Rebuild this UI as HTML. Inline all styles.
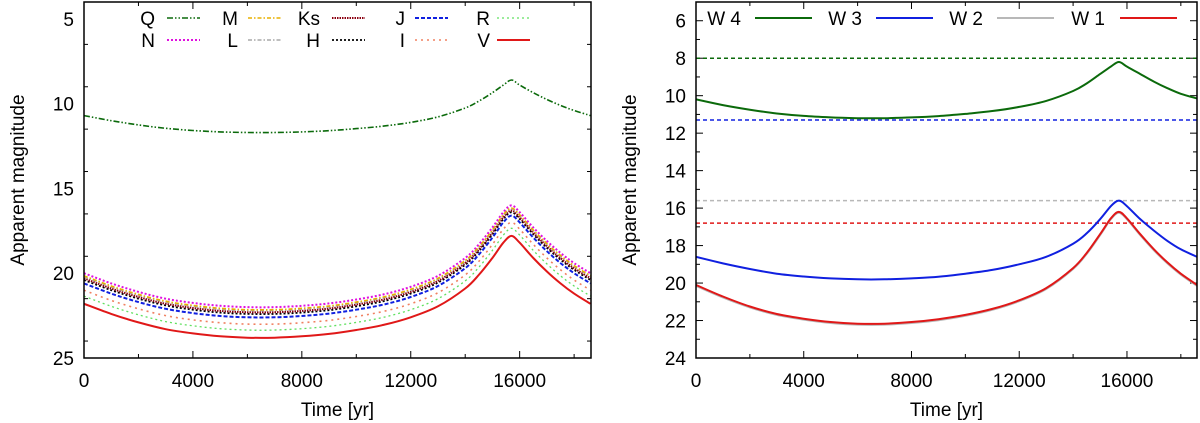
<!DOCTYPE html>
<html><head><meta charset="utf-8"><style>
html,body{margin:0;padding:0;background:#fff;}
svg{display:block;font-family:"Liberation Sans",Helvetica,sans-serif;}
</style></head><body>
<svg id="chart" width="1200" height="423" viewBox="0 0 1200 423"></svg>
<script>
const times=[0,1000,2000,3000,4000,5000,6000,7000,8000,9000,10000,11000,12000,13000,14000,14500,15000,15400,15700,16000,16500,17000,17500,18000,18600];
const magQ=[10.7,11.0,11.25,11.45,11.58,11.66,11.7,11.7,11.66,11.59,11.47,11.32,11.1,10.78,10.25,9.85,9.35,8.9,8.6,8.9,9.35,9.75,10.1,10.4,10.7];
const magN=[20,20.6,21.1,21.5,21.75,21.92,22,22,21.92,21.78,21.55,21.25,20.8,20.15,19.1,18.3,17.3,16.4,16,16.4,17.3,18.1,18.8,19.4,20];
const magM=[20.15,20.75,21.25,21.65,21.9,22.07,22.15,22.15,22.07,21.93,21.7,21.4,20.95,20.3,19.25,18.45,17.45,16.55,16.15,16.55,17.45,18.25,18.95,19.55,20.15];
const magL=[20.2,20.8,21.3,21.7,21.95,22.12,22.2,22.2,22.12,21.98,21.75,21.45,21,20.35,19.3,18.5,17.5,16.6,16.2,16.6,17.5,18.3,19,19.6,20.2];
const magKs=[20.3,20.9,21.4,21.8,22.05,22.22,22.3,22.3,22.22,22.08,21.85,21.55,21.1,20.45,19.4,18.6,17.6,16.7,16.3,16.7,17.6,18.4,19.1,19.7,20.3];
const magH=[20.4,21,21.5,21.9,22.15,22.32,22.4,22.4,22.32,22.18,21.95,21.65,21.2,20.55,19.5,18.7,17.7,16.8,16.4,16.8,17.7,18.5,19.2,19.8,20.4];
const magJ=[20.6,21.2,21.7,22.1,22.35,22.52,22.6,22.6,22.52,22.38,22.15,21.85,21.4,20.75,19.7,18.9,17.9,17,16.6,17,17.9,18.7,19.4,20,20.6];
const magI=[21,21.6,22.1,22.5,22.75,22.92,23,23,22.92,22.78,22.55,22.25,21.8,21.15,20.1,19.3,18.3,17.4,17,17.4,18.3,19.1,19.8,20.4,21];
const magR=[21.35,21.95,22.45,22.85,23.1,23.27,23.35,23.35,23.27,23.13,22.9,22.6,22.15,21.5,20.45,19.65,18.65,17.75,17.35,17.75,18.65,19.45,20.15,20.75,21.35];
const magV=[21.8,22.4,22.9,23.3,23.55,23.72,23.8,23.8,23.72,23.58,23.35,23.05,22.6,21.95,20.9,20.1,19.1,18.2,17.8,18.2,19.1,19.9,20.6,21.2,21.8];
const magW4=[10.2,10.5,10.75,10.95,11.08,11.16,11.2,11.2,11.16,11.09,10.97,10.82,10.6,10.28,9.75,9.35,8.85,8.45,8.2,8.45,8.85,9.25,9.6,9.9,10.15];
const magW3=[18.6,18.95,19.25,19.5,19.65,19.75,19.8,19.8,19.75,19.66,19.5,19.3,19.0,18.6,17.9,17.35,16.6,15.9,15.6,15.9,16.6,17.2,17.75,18.2,18.6];
const magW2=[20.15,20.77,21.3,21.7,21.95,22.13,22.22,22.22,22.13,21.98,21.75,21.43,20.97,20.32,19.25,18.45,17.45,16.6,16.25,16.6,17.45,18.25,18.95,19.55,20.15];
const magW1=[20.1,20.72,21.25,21.65,21.9,22.08,22.17,22.17,22.08,21.93,21.7,21.38,20.92,20.27,19.2,18.4,17.4,16.55,16.2,16.55,17.4,18.2,18.9,19.5,20.1];
const limitW4=8.0, limitW3=11.3, limitW2=15.6, limitW1=16.8;
const xTicks=[0,4000,8000,12000,16000];
const yTicksLeft=[5,10,15,20,25];
const yTicksRight=[6,8,10,12,14,16,18,20,22,24];

const NS="http://www.w3.org/2000/svg";
const svg=document.getElementById('chart');
function mk(tag,attrs,parent){const e=document.createElementNS(NS,tag);for(const k in attrs)e.setAttribute(k,attrs[k]);(parent||svg).appendChild(e);return e;}
function smooth(pts){
  let d='M'+pts[0][0].toFixed(1)+','+pts[0][1].toFixed(1);
  for(let i=0;i<pts.length-1;i++){
    const p0=pts[i-1]||pts[i],p1=pts[i],p2=pts[i+1],p3=pts[i+2]||p2;
    const c1=[p1[0]+(p2[0]-p0[0])/6,p1[1]+(p2[1]-p0[1])/6];
    const c2=[p2[0]-(p3[0]-p1[0])/6,p2[1]-(p3[1]-p1[1])/6];
    d+=` C${c1[0].toFixed(1)},${c1[1].toFixed(1)} ${c2[0].toFixed(1)},${c2[1].toFixed(1)} ${p2[0].toFixed(1)},${p2[1].toFixed(1)}`;
  }
  return d;
}
const FS=19;
function panel(o){
  const g=mk('g',{});
  
  
  const X=v=>o.x0+(v-0)/(o.xmax)*(o.x1-o.x0);
  const Y=v=>o.y0+(v-o.ymin)/(o.ymax-o.ymin)*(o.y1-o.y0);
  for(let t=0;t<=o.xmax;t+=2000){
    const major=t%4000===0, L=major?7:4;
    mk('line',{x1:X(t),x2:X(t),y1:o.y1,y2:o.y1-L,stroke:'#000','stroke-width':1},g);
    mk('line',{x1:X(t),x2:X(t),y1:o.y0,y2:o.y0+L,stroke:'#000','stroke-width':1},g);
  }
  xTicks.forEach(t=>{const tx=mk('text',{x:X(t),y:o.y1+29,'text-anchor':'middle','font-size':FS},g);tx.textContent=t;
    });
  for(let v=o.ymin;v<=o.ymax+1e-9;v+=o.minor){
    const major=o.yTicks.some(t=>Math.abs(t-v)<1e-6), L=major?7:4;
    mk('line',{x1:o.x0,x2:o.x0+L,y1:Y(v),y2:Y(v),stroke:'#000'},g);
    mk('line',{x1:o.x1,x2:o.x1-L,y1:Y(v),y2:Y(v),stroke:'#000'},g);
  }
  o.yTicks.forEach(v=>{const tx=mk('text',{x:o.x0-10,y:Y(v)+7,'text-anchor':'end','font-size':FS},g);tx.textContent=v;
    });
  const xt=mk('text',{x:(o.x0+o.x1)/2,y:416,'text-anchor':'middle','font-size':FS},g);xt.textContent='Time [yr]';
  
  const ax=o.x0-60, ay=(o.y0+o.y1)/2;
  const yt=mk('text',{x:ax,y:ay,'text-anchor':'middle','font-size':FS,transform:`rotate(-90 ${ax} ${ay})`},g);yt.textContent='Apparent magnitude';
  
  const clip=mk('clipPath',{id:o.name+'-clip'},g);mk('rect',{x:o.x0,y:o.y0,width:o.x1-o.x0,height:o.y1-o.y0},clip);
  const pg=mk('g',{'clip-path':`url(#${o.name}-clip)`},g);
  (o.hlines||[]).forEach(h=>{const l=mk('line',{x1:o.x0,x2:o.x1,y1:Y(h.v),y2:Y(h.v),stroke:h.c,'stroke-width':1.5,'stroke-dasharray':'4,3'},pg);
    });
  o.series.forEach(s=>{
    const d=smooth(s.data.map((v,i)=>[X(times[i]),Y(v)]));
    const p=mk('path',{d:d,fill:'none',stroke:s.c,'stroke-width':s.w||1.6,'stroke-dasharray':s.dash||'none','stroke-linejoin':'round'},pg);
    
  });
  mk('rect',{x:o.x0,y:o.y0,width:o.x1-o.x0,height:o.y1-o.y0,fill:'none',stroke:'#000','stroke-width':1.5},g);
  o.legend.forEach(l=>{
    const tx=mk('text',{x:l.tx,y:l.y+7,'text-anchor':'end','font-size':FS},g);tx.textContent=l.s.label;
    
    const ln=mk('line',{x1:l.lx,x2:l.lx+l.len,y1:l.y,y2:l.y,stroke:l.s.c,'stroke-width':l.s.w||1.6,'stroke-dasharray':l.s.dash||'none'},g);
    
  });
}
const S={
 Q:{n:'q',label:'Q',data:magQ,c:'#0b6a0b',dash:'6,2,1.5,2,1.5,2'},
 N:{n:'n',label:'N',data:magN,c:'#e010e0',dash:'2,2',w:2},
 M:{n:'m',label:'M',data:magM,c:'#e8b000',dash:'4,2,1.5,2'},
 Ks:{n:'ks',label:'Ks',data:magKs,c:'#8b0010',dash:'1.5,1',w:2},
 L:{n:'l',label:'L',data:magL,c:'#a8a8a8',dash:'4,2,1.5,2'},
 H:{n:'h',label:'H',data:magH,c:'#000',dash:'2,2',w:1.8},
 J:{n:'j',label:'J',data:magJ,c:'#1020e0',dash:'4,2',w:2},
 I:{n:'i',label:'I',data:magI,c:'#f08060',dash:'2,4'},
 R:{n:'r',label:'R',data:magR,c:'#60e060',dash:'2,3',w:1.3},
 V:{n:'v',label:'V',data:magV,c:'#e01818',w:2}
};
const leftCols=[[155,167,S.Q,S.N],[238,248,S.M,S.L],[320,332,S.Ks,S.H],[405,415,S.J,S.I],[490,497,S.R,S.V]];
const leftLeg=[];leftCols.forEach(c=>{leftLeg.push({tx:c[0],lx:c[1],len:33,y:18,s:c[2]});leftLeg.push({tx:c[0],lx:c[1],len:33,y:40,s:c[3]});});
panel({name:'left-panel',x0:84,x1:591,y0:2,y1:358,xmax:18620,ymin:4,ymax:25,minor:2.5,yTicks:yTicksLeft,
  series:[S.Q,S.R,S.I,S.J,S.H,S.Ks,S.L,S.M,S.N,S.V],legend:leftLeg});
const W4={n:'w4',label:'W 4',data:magW4,c:'#0b6a0b',w:2},W3={n:'w3',label:'W 3',data:magW3,c:'#1020e0',w:2},
W2={n:'w2',label:'W 2',data:magW2,c:'#b8b8b8',w:2},W1={n:'w1',label:'W 1',data:magW1,c:'#e01818',w:2};
panel({name:'right-panel',x0:696,x1:1197,y0:2,y1:358,xmax:18600,ymin:5,ymax:24,minor:1,yTicks:yTicksRight,
  hlines:[{v:limitW4,c:'#0b6a0b',n:'w4-limit'},{v:limitW3,c:'#1020e0',n:'w3-limit'},{v:limitW2,c:'#b8b8b8',n:'w2-limit'},{v:limitW1,c:'#e01818',n:'w1-limit'}],
  series:[W4,W3,W2,W1],
  legend:[{tx:741,lx:755,len:57,y:18,s:W4},{tx:862,lx:876,len:57,y:18,s:W3},{tx:983,lx:997,len:57,y:18,s:W2},{tx:1105,lx:1120,len:57,y:18,s:W1}]});
</script>
</body></html>
